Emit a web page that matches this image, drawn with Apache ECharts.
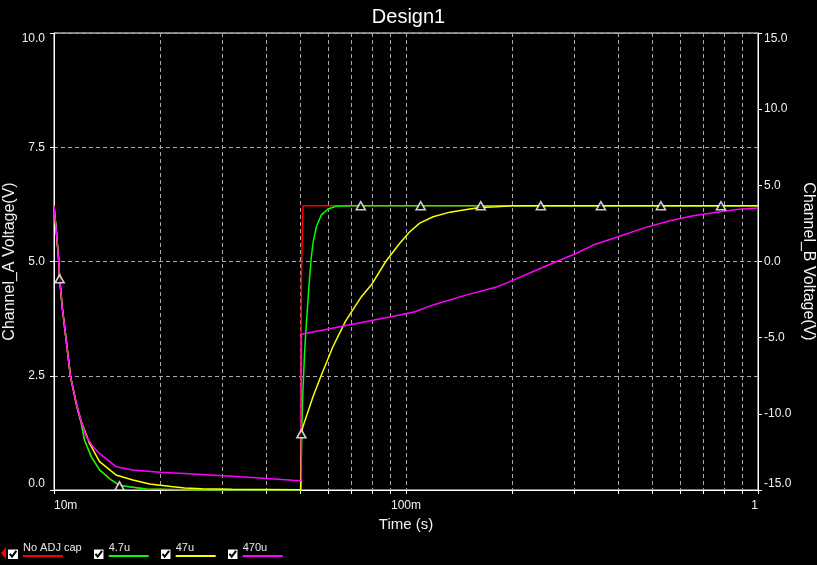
<!DOCTYPE html>
<html><head><meta charset="utf-8">
<script src="https://cdn.jsdelivr.net/npm/echarts@6/dist/echarts.min.js"></script>
<style>html,body{margin:0;padding:0;background:#000;overflow:hidden}#c{width:817px;height:565px}</style>
</head><body><div id="c"></div>
<script>
// ---------- data (time in seconds, voltage in V) ----------
const seriesNames = ['No ADJ cap', '4.7u', '47u', '470u'];

const noAdjCap = [
  [0.01, 6.22], [0.010145, 5.69], [0.01032, 5.0], [0.01037, 4.66], [0.01055, 4.01], [0.01083, 3.28],
  [0.01114, 2.48], [0.01161, 1.82], [0.01195, 1.46], [0.01221, 1.09], [0.01276, 0.73], [0.01347, 0.44],
  [0.01454, 0.22], [0.01535, 0.10], [0.01828, 0.02], [0.025, 0.0], [0.0502, 0.0],
  [0.05044, 0.0], [0.05044, 4.62], [0.05097, 4.62], [0.05097, 6.22], [1.0, 6.22]
];

const cap4u7 = [
  [0.01, 6.22], [0.010145, 5.69], [0.01032, 5.0], [0.01037, 4.66], [0.01055, 4.01], [0.01083, 3.28],
  [0.01114, 2.48], [0.01161, 1.82], [0.01195, 1.46], [0.01221, 1.09], [0.01276, 0.73], [0.01347, 0.44],
  [0.01454, 0.22], [0.01535, 0.10], [0.01828, 0.02], [0.025, 0.0], [0.0502, 0.0],
  [0.05077, 0.0], [0.05077, 1.79], [0.05097, 2.19], [0.05155, 3.06], [0.05212, 3.65], [0.05267, 4.16],
  [0.05326, 4.67], [0.05385, 5.11], [0.05442, 5.40], [0.05564, 5.76], [0.05749, 6.02], [0.060, 6.15],
  [0.0634, 6.21], [0.07, 6.22], [1.0, 6.22]
];

const cap47u = [
  [0.01, 6.22], [0.010145, 5.69], [0.01032, 5.0], [0.01037, 4.66], [0.01055, 4.01], [0.01083, 3.28],
  [0.01114, 2.48], [0.01161, 1.85], [0.01195, 1.50], [0.01262, 1.02], [0.01347, 0.62], [0.0150, 0.33],
  [0.01675, 0.22], [0.01869, 0.13], [0.0215, 0.075], [0.0235, 0.045], [0.0263, 0.025], [0.032, 0.015],
  [0.0502, 0.005],
  [0.05044, 0.0], [0.05044, 1.24], [0.05097, 1.39], [0.05442, 2.04], [0.05723, 2.48], [0.06203, 3.14],
  [0.0674, 3.70], [0.0747, 4.23], [0.07976, 4.49], [0.08758, 5.0], [0.0960, 5.40], [0.1025, 5.65],
  [0.1094, 5.84], [0.1194, 5.98], [0.1332, 6.08], [0.1486, 6.14], [0.1621, 6.18], [0.1808, 6.20],
  [0.2, 6.22], [1.0, 6.22]
];

const cap470u = [
  [0.01, 6.22], [0.010145, 5.69], [0.01032, 5.0], [0.01037, 4.66], [0.01055, 4.01], [0.01083, 3.28],
  [0.01114, 2.48], [0.01161, 1.85], [0.01200, 1.45], [0.01235, 1.17], [0.01289, 0.95], [0.01347, 0.80],
  [0.0150, 0.51], [0.01675, 0.44], [0.01995, 0.387], [0.02274, 0.365], [0.0256, 0.344], [0.0286, 0.322],
  [0.032, 0.30], [0.0355, 0.278], [0.0392, 0.256], [0.0432, 0.234], [0.0477, 0.212], [0.05044, 0.21],
  [0.05044, 3.41], [0.05097, 3.41], [0.0960, 3.83], [0.1059, 3.90], [0.1194, 4.05], [0.1486, 4.27],
  [0.1808, 4.44], [0.1972, 4.56], [0.2297, 4.78], [0.2677, 5.0], [0.3052, 5.18], [0.3402, 5.36],
  [0.4009, 5.54], [0.472, 5.73], [0.5621, 5.89], [0.6549, 6.0], [0.763, 6.08], [0.870, 6.14],
  [0.949, 6.16], [1.0, 6.17]
];

const markerPoints = [
  [0.01037, 4.62], [0.01535, 0.09], [0.05044, 1.23], [0.0744, 6.22], [0.1101, 6.22], [0.1631, 6.22],
  [0.2416, 6.22], [0.3578, 6.22], [0.5299, 6.22], [0.785, 6.22]
];

// axis ticks / labels
const xGridValues = [0.01, 0.02, 0.03, 0.04, 0.05, 0.06, 0.07, 0.08, 0.09, 0.1,
                     0.2, 0.3, 0.4, 0.5, 0.6, 0.7, 0.8, 0.9, 1];
const xLabelValues = [0.01, 0.1, 1];
const xLabelTexts = ['10m', '100m', '1'];
const leftRange = [0, 10], leftStep = 2.5;
const rightRange = [-15, 15], rightStep = 5;

// ---------- styles ----------
const seriesColors = ['#ff0000', '#00ff00', '#ffff00', '#ff00ff'];
const FONT = 'Liberation Sans, Arial, sans-serif';
const TXT = '#f2f2f2';
const GRIDC = '#a8a8a8';

const seriesData = [noAdjCap, cap4u7, cap47u, cap470u];

const checkSvg = 'data:image/svg+xml;utf8,' + encodeURIComponent(
  '<svg xmlns="http://www.w3.org/2000/svg" width="10" height="19" viewBox="0 0 10 19">' +
  '<rect x="0" y="9.5" width="10" height="9.5" fill="#ffffff"/>' +
  '<path d="M1.8 13.8 L4 16.6 L8.4 10.8" stroke="#000" stroke-width="2" fill="none"/></svg>');

const rich = { n: { fontSize: 11, color: '#e8e8e8', fontFamily: FONT, lineHeight: 13 } };
seriesColors.forEach((c, i) => {
  rich['u' + i] = { width: 40, height: 2, lineHeight: 4, backgroundColor: c, fontSize: 2 };
});

const chart = echarts.init(document.getElementById('c'), null, { renderer: 'canvas' });

const lineSeries = seriesNames.map((name, i) => ({
  name, type: 'line', data: seriesData[i], xAxisIndex: 0, yAxisIndex: 0,
  symbol: 'none', showSymbol: false, animation: false,
  lineStyle: { color: seriesColors[i], width: 1.5 },
  itemStyle: { color: seriesColors[i] },
  z: 2 + i
}));

chart.setOption({
  backgroundColor: '#000',
  animation: false,
  title: {
    text: 'Design1', left: 'center', top: 2,
    textStyle: { color: '#ffffff', fontSize: 20, fontWeight: 'normal', fontFamily: FONT }
  },
  grid: {
    left: 54, right: 59, top: 33, bottom: 75, containLabel: false, outerBoundsMode: 'none',
    show: true, borderColor: '#ffffff', borderWidth: 1, backgroundColor: 'transparent'
  },
  legend: {
    data: seriesNames, left: 8, top: 540, padding: 0, itemGap: 12,
    itemWidth: 10, itemHeight: 19, icon: 'image://' + checkSvg,
    selectedMode: false,
    formatter: name => '{n|' + name + '}\n{u' + seriesNames.indexOf(name) + '| }',
    textStyle: { rich }
  },
  graphic: [{
    type: 'polygon', left: 1, top: 547,
    shape: { points: [[5, 0], [0, 6], [5, 12]] },
    style: { fill: '#ff0000' }, silent: true
  }],
  xAxis: {
    type: 'log', logBase: 10, min: 0.01, max: 1,
    name: 'Time (s)', nameLocation: 'middle', nameGap: 27, nameMoveOverlap: false,
    nameTextStyle: { color: TXT, fontSize: 15, fontFamily: FONT },
    axisLine: { show: true, lineStyle: { color: '#ffffff', width: 1 } },
    axisTick: { show: true, inside: false, length: 4, customValues: xGridValues, lineStyle: { color: '#ffffff' } },
    axisLabel: {
      color: TXT, fontSize: 12, fontFamily: FONT, margin: 10,
      customValues: xLabelValues, showMinLabel: true, showMaxLabel: true,
      alignMinLabel: 'left', alignMaxLabel: 'right',
      formatter: v => {
        const k = xLabelValues.findIndex(x => Math.abs(x - v) / x < 1e-6);
        return k >= 0 ? xLabelTexts[k] : '';
      }
    },
    splitLine: { show: true, lineStyle: { color: GRIDC, type: [4, 3], width: 1 } },
    minorTick: { show: false }, minorSplitLine: { show: false }
  },
  yAxis: [{
    type: 'value', position: 'left', min: leftRange[0], max: leftRange[1], interval: leftStep,
    name: 'Channel_A Voltage(V)', nameLocation: 'middle', nameGap: 36, nameMoveOverlap: false,
    nameTextStyle: { color: TXT, fontSize: 16, fontFamily: FONT },
    axisLine: { show: true, lineStyle: { color: '#ffffff' } },
    axisTick: { show: true, length: 4, lineStyle: { color: '#ffffff' } },
    axisLabel: {
      color: TXT, fontSize: 12, fontFamily: FONT, margin: 9,
      showMinLabel: true, showMaxLabel: true,
      verticalAlignMinLabel: 'bottom', verticalAlignMaxLabel: 'top',
      formatter: v => v.toFixed(1)
    },
    splitLine: { show: true, lineStyle: { color: GRIDC, type: [4, 3], width: 1 } }
  }, {
    type: 'value', position: 'right', min: rightRange[0], max: rightRange[1], interval: rightStep,
    name: 'Channel_B Voltage(V)', nameLocation: 'middle', nameGap: 42, nameRotate: -90, nameMoveOverlap: false,
    nameTextStyle: { color: TXT, fontSize: 16, fontFamily: FONT },
    axisLine: { show: true, lineStyle: { color: '#ffffff' } },
    axisTick: { show: true, length: 4, lineStyle: { color: '#ffffff' } },
    axisLabel: {
      color: TXT, fontSize: 12, fontFamily: FONT, margin: 6,
      showMinLabel: true, showMaxLabel: true,
      verticalAlignMinLabel: 'bottom', verticalAlignMaxLabel: 'top',
      formatter: v => v.toFixed(1)
    },
    splitLine: { show: false }
  }],
  series: lineSeries.concat([{
    name: 'markers', type: 'scatter', data: markerPoints, xAxisIndex: 0, yAxisIndex: 0,
    symbol: 'triangle', symbolSize: [9, 8], animation: false, z: 10,
    itemStyle: { color: '#000000', borderColor: '#ffffff', borderWidth: 1.6 }
  }])
});
</script>
</body></html>
